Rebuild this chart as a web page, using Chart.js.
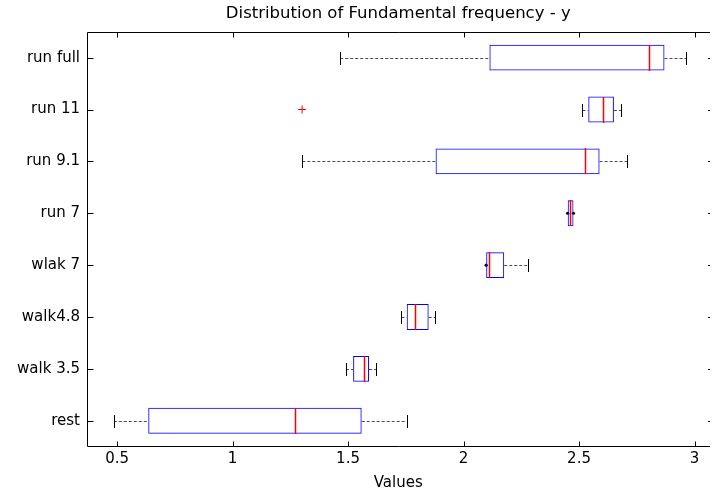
<!DOCTYPE html>
<html>
<head>
<meta charset="utf-8">
<script src="https://cdn.jsdelivr.net/npm/chart.js@4.4.1/dist/chart.umd.min.js"></script>
<style>
html, body { margin: 0; padding: 0; background: #fff; }
</style>
</head>
<body>
<canvas id="chart" width="715" height="492"></canvas>
<script>
// one row per group, top to bottom
var groups = ['run full', 'run 11', 'run 9.1', 'run 7', 'wlak 7', 'walk4.8', 'walk 3.5', 'rest'];
var whiskerLow  = [1.466, 2.515, 1.302, 2.451, 2.098, 1.731, 1.491, 0.486];
var quartile1   = [2.112, 2.540, 1.879, 2.451, 2.098, 1.754, 1.522, 0.635];
var medians     = [2.801, 2.602, 2.527, 2.463, 2.112, 1.791, 1.567, 1.270];
var quartile3   = [2.870, 2.651, 2.589, 2.476, 2.176, 1.849, 1.591, 1.559];
var whiskerHigh = [2.963, 2.682, 2.709, 2.476, 2.280, 1.877, 1.621, 1.754];
var outlierGroups = ['run 11'];
var outlierValues = [1.301];
var xTicks = [0.5, 1, 1.5, 2, 2.5, 3];

var FONT = 'DejaVu Sans';
Chart.defaults.font.family = FONT;
Chart.defaults.color = '#000';

// zero-length whiskers show up as a small black dot at the box edge
var dots = [];
groups.forEach(function(g, i) {
    if (whiskerLow[i] === quartile1[i]) dots.push({x: whiskerLow[i], y: g});
    if (whiskerHigh[i] === quartile3[i]) dots.push({x: whiskerHigh[i], y: g});
});

var boxParts = {
    id: 'boxParts',
    beforeDatasetsDraw: function(chart) {
        var ctx = chart.ctx, xs = chart.scales.x, ys = chart.scales.y;
        var band = ys.getPixelForValue(1) - ys.getPixelForValue(0);
        var cap = band * 0.125;
        ctx.save();
        ctx.lineWidth = 1;
        groups.forEach(function(g, i) {
            var py = Math.round(ys.getPixelForValue(i)) + 0.5;
            var segs = [[whiskerLow[i], quartile1[i], whiskerLow[i]],
                        [quartile3[i], whiskerHigh[i], whiskerHigh[i]]];
            segs.forEach(function(s) {
                if (s[0] === s[1]) return;
                var a = xs.getPixelForValue(s[0]), b = xs.getPixelForValue(s[1]);
                ctx.strokeStyle = 'rgba(0,0,0,0.7)';
                ctx.setLineDash([3, 2]);
                ctx.beginPath(); ctx.moveTo(a, py); ctx.lineTo(b, py); ctx.stroke();
                var c = Math.round(xs.getPixelForValue(s[2])) + 0.5;
                ctx.strokeStyle = '#000';
                ctx.setLineDash([]);
                ctx.beginPath(); ctx.moveTo(c, py - cap); ctx.lineTo(c, py + cap); ctx.stroke();
            });
        });
        ctx.restore();
    },
    afterDatasetsDraw: function(chart) {
        var ctx = chart.ctx, xs = chart.scales.x, ys = chart.scales.y;
        var band = ys.getPixelForValue(1) - ys.getPixelForValue(0);
        ctx.save();
        ctx.fillStyle = '#ff0000';
        medians.forEach(function(m, i) {
            var px = xs.getPixelForValue(m);
            var py = ys.getPixelForValue(i);
            ctx.fillRect(Math.round(px) - 0.25, Math.round(py - band / 4), 1.5, Math.round(band / 2));
        });
        ctx.restore();
    },
    afterDraw: function(chart) {
        var ctx = chart.ctx, a = chart.chartArea, xs = chart.scales.x, ys = chart.scales.y;
        var L = Math.round(a.left) + 0.5, T = Math.round(a.top) + 0.5, B = Math.round(a.bottom) - 0.5, R = a.right;
        ctx.save();
        ctx.strokeStyle = '#000';
        ctx.lineWidth = 1;
        ctx.beginPath();
        ctx.moveTo(R, T); ctx.lineTo(L, T); ctx.lineTo(L, B); ctx.lineTo(R, B);
        ctx.stroke();
        // inward ticks
        ctx.beginPath();
        xTicks.forEach(function(v) {
            var px = Math.round(xs.getPixelForValue(v)) + 0.5;
            ctx.moveTo(px, T); ctx.lineTo(px, T + 5);
            ctx.moveTo(px, B); ctx.lineTo(px, B - 5);
        });
        groups.forEach(function(g, i) {
            var py = Math.round(ys.getPixelForValue(i)) + 0.5;
            ctx.moveTo(L, py); ctx.lineTo(L + 6, py);
            ctx.moveTo(R, py); ctx.lineTo(R - 2, py);
        });
        ctx.stroke();
        ctx.restore();
    }
};

new Chart(document.getElementById('chart').getContext('2d'), {
    type: 'bar',
    data: {
        labels: groups,
        datasets: [
            {
                type: 'bar',
                data: groups.map(function(g, i) { return [quartile1[i], quartile3[i]]; }),
                backgroundColor: 'rgba(0,0,0,0)',
                borderColor: '#0000ff',
                borderWidth: 1,
                borderSkipped: false,
                categoryPercentage: 1,
                barPercentage: 0.5
            },
            {
                type: 'scatter',
                data: outlierGroups.map(function(g, i) { return {x: outlierValues[i], y: g}; }),
                pointStyle: 'cross',
                radius: 4,
                borderColor: '#ff0000',
                borderWidth: 1
            },
            {
                type: 'scatter',
                data: dots,
                pointStyle: 'circle',
                radius: 1.6,
                backgroundColor: '#000',
                borderColor: '#000',
                borderWidth: 0
            }
        ]
    },
    options: {
        indexAxis: 'y',
        responsive: false,
        animation: false,
        layout: { padding: { left: 0, top: 0, bottom: 0, right: -4.8 } },
        plugins: {
            legend: { display: false },
            tooltip: { enabled: false },
            title: {
                display: true,
                fullSize: false,
                text: 'Distribution of Fundamental frequency - y',
                color: '#000',
                font: { family: FONT, size: 16.5, weight: 'normal' },
                padding: { top: 4, bottom: 7.9 }
            }
        },
        scales: {
            x: {
                type: 'linear',
                min: 0.3677,
                max: 3.067,
                afterBuildTicks: function(s) { s.ticks = xTicks.map(function(v) { return {value: v}; }); },
                afterFit: function(s) { s.height = 45.3; },
                grid: { display: false, drawTicks: false },
                border: { display: false },
                ticks: {
                    autoSkip: false, maxRotation: 0, padding: 3,
                    font: { family: FONT, size: 15 },
                    callback: function(v) { return String(v); }
                },
                title: {
                    display: true, text: 'Values', color: '#000',
                    font: { family: FONT, size: 15 },
                    padding: { top: 0, bottom: 0 }
                }
            },
            y: {
                type: 'category',
                offset: true,
                afterFit: function(s) { s.width = 86.5; },
                grid: { display: false, drawTicks: false },
                border: { display: false },
                ticks: { padding: 6.5, font: { family: FONT, size: 15 } }
            }
        }
    },
    plugins: [boxParts]
});
</script>
</body>
</html>
